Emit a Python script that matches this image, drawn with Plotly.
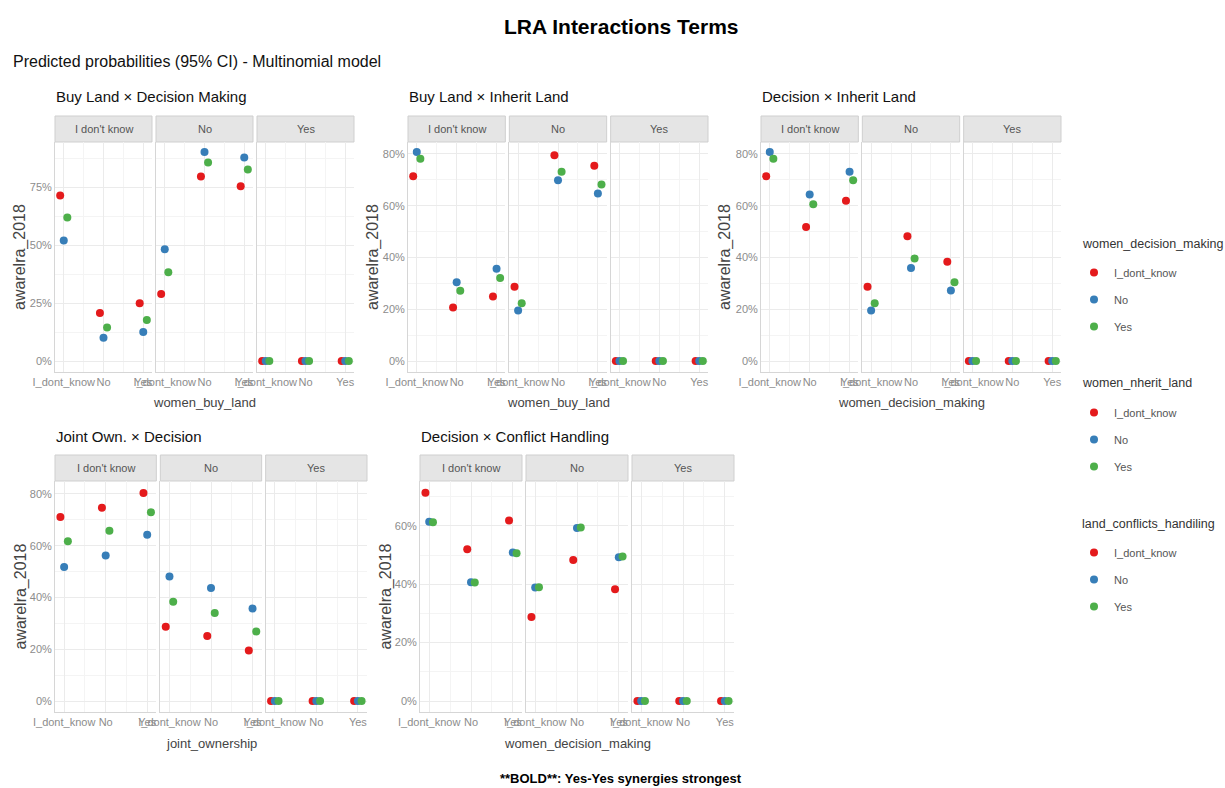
import plotly.graph_objects as go

# ---------------- data ----------------
categories = ["I_dont_know", "No", "Yes"]          # x categories within each facet
facet_labels = ["I don't know", "No", "Yes"]       # strip labels
level_names = ["I_dont_know", "No", "Yes"]         # colour levels (legend items)

# values listed facet by facet (I don't know | No | Yes), x = I_dont_know, No, Yes
buy_decision_idk = [0.714, 0.207, 0.249, 0.289, 0.795, 0.753, 0.0, 0.0, 0.0]
buy_decision_no = [0.520, 0.101, 0.125, 0.482, 0.901, 0.877, 0.0, 0.0, 0.0]
buy_decision_yes = [0.619, 0.145, 0.177, 0.383, 0.856, 0.825, 0.0, 0.0, 0.0]

buy_inherit_idk = [0.714, 0.207, 0.249, 0.287, 0.795, 0.754, 0.0, 0.0, 0.0]
buy_inherit_no = [0.807, 0.304, 0.356, 0.195, 0.698, 0.647, 0.0, 0.0, 0.0]
buy_inherit_yes = [0.781, 0.271, 0.321, 0.223, 0.731, 0.682, 0.0, 0.0, 0.0]

decision_inherit_idk = [0.714, 0.518, 0.619, 0.287, 0.482, 0.383, 0.0, 0.0, 0.0]
decision_inherit_no = [0.807, 0.643, 0.731, 0.195, 0.359, 0.272, 0.0, 0.0, 0.0]
decision_inherit_yes = [0.781, 0.606, 0.698, 0.223, 0.396, 0.304, 0.0, 0.0, 0.0]

joint_decision_idk = [0.711, 0.747, 0.804, 0.287, 0.251, 0.195, 0.0, 0.0, 0.0]
joint_decision_no = [0.518, 0.562, 0.642, 0.481, 0.437, 0.357, 0.0, 0.0, 0.0]
joint_decision_yes = [0.617, 0.658, 0.729, 0.383, 0.340, 0.269, 0.0, 0.0, 0.0]

decision_conflict_idk = [0.714, 0.520, 0.619, 0.288, 0.483, 0.383, 0.0, 0.0, 0.0]
decision_conflict_no = [0.614, 0.407, 0.509, 0.389, 0.593, 0.493, 0.0, 0.0, 0.0]
decision_conflict_yes = [0.613, 0.406, 0.506, 0.390, 0.595, 0.495, 0.0, 0.0, 0.0]

ticks_p1 = [0.0, 0.25, 0.5, 0.75]
ticklabels_p1 = ["0%", "25%", "50%", "75%"]
ticks_p80 = [0.0, 0.2, 0.4, 0.6, 0.8]
ticklabels_p80 = ["0%", "20%", "40%", "60%", "80%"]
ticks_p60 = [0.0, 0.2, 0.4, 0.6]
ticklabels_p60 = ["0%", "20%", "40%", "60%"]

panel_titles = ["Buy Land × Decision Making", "Buy Land × Inherit Land",
                "Decision × Inherit Land", "Joint Own. × Decision",
                "Decision × Conflict Handling"]
x_titles = ["women_buy_land", "women_buy_land", "women_decision_making",
            "joint_ownership", "women_decision_making"]
legend_titles = ["women_decision_making", "women_nherit_land", "land_conflicts_handiling"]

# ---------------- style / layout ----------------
W, H = 1225, 788
def px(x): return x / W
def py(y): return 1 - y / H

colors = ["#E41A1C", "#377EB8", "#4DAF4A"]
dodge = [-0.09, 0.0, 0.09]
FONT = "Liberation Sans, Arial, sans-serif"
GRID = "#EBEBEB"
MINOR = "#F4F4F4"
TICKC = "#8C8C8C"

panels = [
    dict(series=[buy_decision_idk, buy_decision_no, buy_decision_yes],
         left=55, right=354, strip=(116, 142), bottom=372, yr=[-0.047, 0.944],
         ticks=ticks_p1, labels=ticklabels_p1, minor=[0.125, 0.375, 0.625, 0.875],
         ytx=20, legend="legend"),
    dict(series=[buy_inherit_idk, buy_inherit_no, buy_inherit_yes],
         left=408, right=708, strip=(116, 142), bottom=372, yr=[-0.0425, 0.846],
         ticks=ticks_p80, labels=ticklabels_p80, minor=[0.1, 0.3, 0.5, 0.7],
         ytx=373, legend="legend2"),
    dict(series=[decision_inherit_idk, decision_inherit_no, decision_inherit_yes],
         left=761, right=1061, strip=(116, 142), bottom=372, yr=[-0.0425, 0.846],
         ticks=ticks_p80, labels=ticklabels_p80, minor=[0.1, 0.3, 0.5, 0.7],
         ytx=725, legend=None),
    dict(series=[joint_decision_idk, joint_decision_no, joint_decision_yes],
         left=55, right=367, strip=(455, 481), bottom=712, yr=[-0.0425, 0.850],
         ticks=ticks_p80, labels=ticklabels_p80, minor=[0.1, 0.3, 0.5, 0.7],
         ytx=20, legend=None),
    dict(series=[decision_conflict_idk, decision_conflict_no, decision_conflict_yes],
         left=420, right=734, strip=(455, 481), bottom=712, yr=[-0.0377, 0.754],
         ticks=ticks_p60, labels=ticklabels_p60, minor=[0.1, 0.3, 0.5, 0.7],
         ytx=385, legend="legend3"),
]

fig = go.Figure()
layout_axes = {}
shapes = []
annotations = []
GAP = 4

for p, pan in enumerate(panels):
    fw = (pan["right"] - pan["left"] - 2 * GAP) / 3
    s_top, s_bot = pan["strip"]
    for f in range(3):
        k = p * 3 + f + 1
        xa = "x" if k == 1 else f"x{k}"
        ya = "y" if k == 1 else f"y{k}"
        x0 = pan["left"] + f * (fw + GAP)
        x1 = x0 + fw
        layout_axes["xaxis" if k == 1 else f"xaxis{k}"] = dict(
            domain=[px(x0), px(x1)], anchor=ya, range=[0.78, 3.22],
            tickmode="array", tickvals=[1, 2, 3], ticktext=categories, tickangle=0,
            tickfont=dict(size=11, color=TICKC, family=FONT),
            showgrid=True, gridcolor=GRID, gridwidth=1.3,
            minor=dict(tickmode="array", tickvals=[1.5, 2.5], showgrid=True,
                       gridcolor=MINOR, gridwidth=0.8, ticks=""),
            showline=True, linecolor="#D6D6D6", linewidth=1,
            zeroline=False, ticks="", ticklen=0, fixedrange=True, automargin=False)
        layout_axes["yaxis" if k == 1 else f"yaxis{k}"] = dict(
            domain=[py(pan["bottom"]), py(s_bot)], anchor=xa, range=pan["yr"],
            tickmode="array", tickvals=pan["ticks"],
            ticktext=pan["labels"] if f == 0 else [""] * len(pan["ticks"]),
            showticklabels=(f == 0),
            tickfont=dict(size=11, color=TICKC, family=FONT),
            showgrid=True, gridcolor=GRID, gridwidth=1.3,
            minor=dict(tickmode="array", tickvals=pan["minor"], showgrid=True,
                       gridcolor=MINOR, gridwidth=0.8, ticks=""),
            showline=True, linecolor="#D6D6D6", linewidth=1,
            zeroline=False, ticks="", fixedrange=True, automargin=False)
        # strip
        shapes.append(dict(type="rect", xref="paper", yref="paper",
                           x0=px(x0), x1=px(x1), y0=py(s_bot), y1=py(s_top),
                           fillcolor="#E5E5E5", line=dict(color="#CFCFCF", width=1),
                           layer="below"))
        annotations.append(dict(text=facet_labels[f], xref="paper", yref="paper",
                                x=px((x0 + x1) / 2), y=py((s_top + s_bot) / 2),
                                xanchor="center", yanchor="middle", showarrow=False,
                                font=dict(size=11, color="#555555", family=FONT)))
        for c in range(3):
            vals = pan["series"][c][f * 3:(f + 1) * 3]
            show = (f == 0 and pan["legend"] is not None)
            tr = dict(
                x=[i + 1 + dodge[c] for i in range(3)], y=vals,
                mode="markers", xaxis=xa, yaxis=ya,
                marker=dict(color=colors[c], size=8, line=dict(width=0)),
                name=level_names[c], showlegend=show,
                legendgroup=f"p{p}_{c}",
                hovertemplate="%{y:.1%}<extra></extra>")
            if show:
                tr["legend"] = pan["legend"]
            fig.add_trace(go.Scatter(**tr))
    # panel title
    annotations.append(dict(text=panel_titles[p], xref="paper", yref="paper",
                            x=px(pan["left"] - 1), y=py(s_top - 19), xanchor="left",
                            yanchor="middle", showarrow=False,
                            font=dict(size=15, color="#111111", family=FONT)))
    # x title
    annotations.append(dict(text=x_titles[p], xref="paper", yref="paper",
                            x=px((pan["left"] + pan["right"]) / 2),
                            y=py(pan["bottom"] + 31), xanchor="center", yanchor="middle",
                            showarrow=False,
                            font=dict(size=13, color="#444444", family=FONT)))
    # y title
    annotations.append(dict(text="awarelra_2018", xref="paper", yref="paper",
                            x=px(pan["ytx"]), y=py((s_bot + pan["bottom"]) / 2),
                            xanchor="center", yanchor="middle", textangle=-90,
                            showarrow=False,
                            font=dict(size=16, color="#444444", family=FONT)))

annotations.append(dict(text="<b>LRA Interactions Terms</b>", xref="paper", yref="paper",
                        x=px(621), y=py(27), xanchor="center", yanchor="middle",
                        showarrow=False, font=dict(size=21, color="#000000", family=FONT)))
annotations.append(dict(text="Predicted probabilities (95% CI) - Multinomial model",
                        xref="paper", yref="paper", x=px(11), y=py(61),
                        xanchor="left", yanchor="middle", showarrow=False,
                        font=dict(size=16, color="#111111", family=FONT)))
annotations.append(dict(text="<b>**BOLD**: Yes-Yes synergies strongest</b>",
                        xref="paper", yref="paper", x=px(621), y=py(778),
                        xanchor="center", yanchor="middle", showarrow=False,
                        font=dict(size=13, color="#000000", family=FONT)))

# legend titles (as text above each legend)
legend_title_y = [244, 383, 524]
for t, ty in zip(legend_titles, legend_title_y):
    annotations.append(dict(text=t, xref="paper", yref="paper", x=px(1080), y=py(ty),
                            xanchor="left", yanchor="middle", showarrow=False,
                            font=dict(size=12.5, color="#333333", family=FONT)))

def legend_cfg(top):
    return dict(x=px(1074), y=py(top), xanchor="left", yanchor="top",
                font=dict(size=11, color="#555555", family=FONT),
                traceorder="grouped", tracegroupgap=8, itemwidth=30,
                bgcolor="rgba(0,0,0,0)", borderwidth=0)

fig.update_layout(
    width=W, height=H, autosize=False,
    margin=dict(l=0, r=0, t=0, b=0, autoexpand=False),
    paper_bgcolor="white", plot_bgcolor="white",
    font=dict(family=FONT),
    shapes=shapes, annotations=annotations,
    legend=legend_cfg(258),
    legend2=legend_cfg(398),
    legend3=legend_cfg(538),
    **layout_axes,
)

fig.write_html("out.html", config={"displayModeBar": False},
               post_script="document.body.style.margin='0px';document.body.style.overflow='hidden';")
